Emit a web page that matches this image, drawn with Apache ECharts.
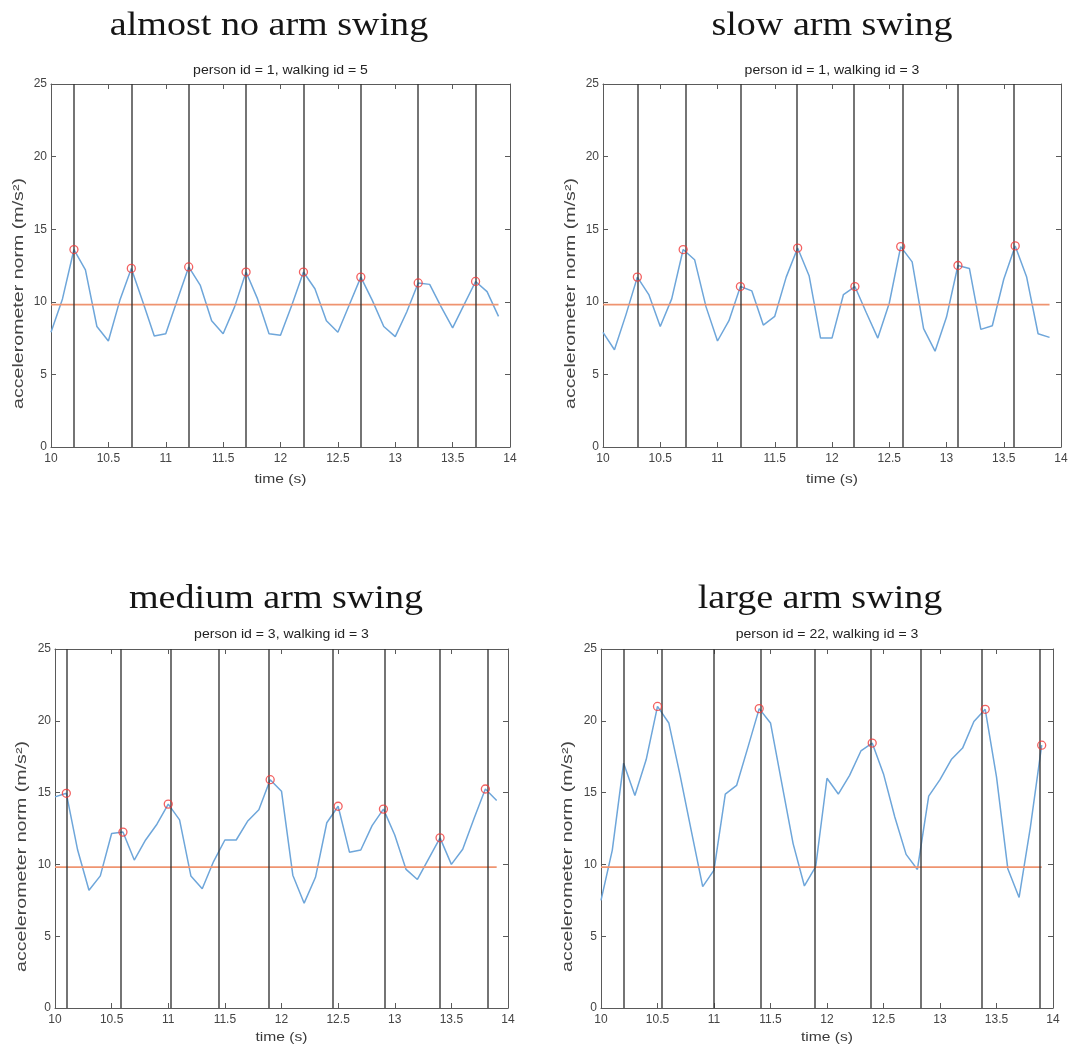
<!DOCTYPE html>
<html>
<head>
<meta charset="utf-8">
<title>Arm swing - accelerometer norm</title>
<script src="https://cdn.jsdelivr.net/npm/echarts@6/dist/echarts.min.js"></script>
<style>
  html, body { margin: 0; padding: 0; background: #ffffff; }
  #chart { width: 1073px; height: 1053px; }
</style>
</head>
<body>
<div id="chart"></div>
<script>
// Sample instants (s), 10 Hz
const sampleTimes = [10.0, 10.1, 10.2, 10.3, 10.4, 10.5, 10.6, 10.7, 10.8, 10.9,
                     11.0, 11.1, 11.2, 11.3, 11.4, 11.5, 11.6, 11.7, 11.8, 11.9,
                     12.0, 12.1, 12.2, 12.3, 12.4, 12.5, 12.6, 12.7, 12.8, 12.9,
                     13.0, 13.1, 13.2, 13.3, 13.4, 13.5, 13.6, 13.7, 13.8, 13.9];

// Accelerometer norm (m/s^2) for each recording
const noSwingNorm = [7.9, 10.2, 13.6, 12.2, 8.3, 7.3, 10.1, 12.3, 10.0, 7.65,
                     7.8, 10.1, 12.4, 11.15, 8.7, 7.8, 9.65, 12.05, 10.2, 7.8,
                     7.7, 9.8, 12.05, 10.9, 8.7, 7.9, 9.8, 11.7, 10.1, 8.3,
                     7.6, 9.3, 11.3, 11.2, 9.65, 8.2, 9.8, 11.4, 10.7, 9.0];
const slowSwingNorm = [7.9, 6.7, 9.1, 11.7, 10.5, 8.3, 10.2, 13.6, 12.9, 9.65,
                       7.3, 8.7, 11.05, 10.75, 8.4, 9.0, 11.7, 13.7, 11.8, 7.5,
                       7.5, 10.5, 11.05, 9.25, 7.5, 9.9, 13.8, 12.75, 8.15, 6.6,
                       8.95, 12.5, 12.3, 8.1, 8.35, 11.55, 13.85, 11.7, 7.8, 7.55];
const mediumSwingNorm = [14.7, 14.95, 11.0, 8.2, 9.2, 12.15, 12.25, 10.3, 11.7, 12.8,
                         14.2, 13.1, 9.2, 8.3, 10.2, 11.7, 11.7, 13.0, 13.8, 15.9,
                         15.1, 9.25, 7.3, 9.1, 12.9, 14.05, 10.85, 11.0, 12.7, 13.85,
                         12.05, 9.65, 8.95, 10.4, 11.85, 10.0, 11.05, 13.2, 15.25, 14.45];
const largeSwingNorm = [7.5, 11.0, 17.05, 14.8, 17.3, 21.0, 19.85, 16.2, 12.3, 8.45,
                        9.6, 14.9, 15.5, 18.15, 20.85, 19.85, 15.65, 11.45, 8.5, 9.85,
                        16.0, 14.9, 16.2, 17.9, 18.45, 16.3, 13.3, 10.7, 9.65, 14.75,
                        15.9, 17.3, 18.1, 19.95, 20.8, 16.1, 9.7, 7.7, 12.6, 18.3];

// Detected peaks (time, value)
const noSwingPeakTimes = [10.2, 10.7, 11.2, 11.7, 12.2, 12.7, 13.2, 13.7];
const noSwingPeakValues = [13.6, 12.3, 12.4, 12.05, 12.05, 11.7, 11.3, 11.4];
const slowSwingPeakTimes = [10.3, 10.7, 11.2, 11.7, 12.2, 12.6, 13.1, 13.6];
const slowSwingPeakValues = [11.7, 13.6, 11.05, 13.7, 11.05, 13.8, 12.5, 13.85];
const mediumSwingPeakTimes = [10.1, 10.6, 11.0, 11.9, 12.5, 12.9, 13.4, 13.8];
const mediumSwingPeakValues = [14.95, 12.25, 14.2, 15.9, 14.05, 13.85, 11.85, 15.25];
const largeSwingPeakTimes = [10.5, 11.4, 12.4, 13.4, 13.9];
const largeSwingPeakValues = [21.0, 20.85, 18.45, 20.8, 18.3];

// Step instants (vertical markers, s)
const noSwingSteps = [10.2, 10.7, 11.2, 11.7, 12.2, 12.7, 13.2, 13.7];
const slowSwingSteps = [10.3, 10.72, 11.195, 11.69, 12.19, 12.62, 13.1, 13.59];
const mediumSwingSteps = [10.1, 10.58, 11.02, 11.45, 11.89, 12.45, 12.91, 13.4, 13.82];
const largeSwingSteps = [10.197, 10.54, 11.0, 11.41, 11.89, 12.39, 12.83, 13.37, 13.885];

// Gravity reference (m/s^2)
const gravity = 9.81;

// Panel captions
const panelTitles = ['almost no arm swing', 'slow arm swing', 'medium arm swing', 'large arm swing'];
const panelSubtitles = ['person id = 1, walking id = 5', 'person id = 1, walking id = 3',
                        'person id = 3, walking id = 3', 'person id = 22, walking id = 3'];
const xAxisName = 'time (s)';
const yAxisName = 'accelerometer norm (m/s\u00B2)';

const panelData = [
  { values: noSwingNorm, peakT: noSwingPeakTimes, peakV: noSwingPeakValues, steps: noSwingSteps },
  { values: slowSwingNorm, peakT: slowSwingPeakTimes, peakV: slowSwingPeakValues, steps: slowSwingSteps },
  { values: mediumSwingNorm, peakT: mediumSwingPeakTimes, peakV: mediumSwingPeakValues, steps: mediumSwingSteps },
  { values: largeSwingNorm, peakT: largeSwingPeakTimes, peakV: largeSwingPeakValues, steps: largeSwingSteps }
];

// Layout of the four plot boxes (px)
const boxes = [
  { left: 51, top: 84, width: 459, height: 363, titleX: 269, titleY: 26, subY: 70, yLabX: 19, xLabY: 479 },
  { left: 603, top: 84, width: 458, height: 363, titleX: 832, titleY: 26, subY: 70, yLabX: 571, xLabY: 479 },
  { left: 55, top: 649, width: 453, height: 359, titleX: 276, titleY: 599, subY: 634, yLabX: 22, xLabY: 1037 },
  { left: 601, top: 649, width: 452, height: 359, titleX: 820, titleY: 599, subY: 634, yLabX: 568, xLabY: 1037 }
];

const AXIS_COLOR = '#5a5a5a';
const TICK_TEXT = '#444444';
const LINE_BLUE = '#6ea6da';
const LINE_ORANGE = '#ef9470';
const STEP_COLOR = '#333333';
const PEAK_RED = '#f03a3a';

const grids = [], xAxes = [], yAxes = [], series = [], graphics = [];

boxes.forEach((b, i) => {
  grids.push({ left: b.left, top: b.top, width: b.width, height: b.height, containLabel: false });

  const xBase = {
    gridIndex: i, type: 'value', min: 10, max: 14, interval: 0.5,
    axisLine: { show: true, onZero: false, lineStyle: { color: AXIS_COLOR, width: 1 } },
    axisTick: { show: true, inside: true, length: 5, lineStyle: { color: AXIS_COLOR } },
    splitLine: { show: false }
  };
  xAxes.push(Object.assign({}, xBase, {
    position: 'bottom',
    axisLabel: { show: true, color: TICK_TEXT, fontSize: 12, fontFamily: 'Liberation Sans, Arial, sans-serif', margin: 6 }
  }));
  xAxes.push(Object.assign({}, xBase, { position: 'top', axisLabel: { show: false } }));

  const yBase = {
    gridIndex: i, type: 'value', min: 0, max: 25, interval: 5,
    axisLine: { show: true, onZero: false, lineStyle: { color: AXIS_COLOR, width: 1 } },
    axisTick: { show: true, inside: true, length: 5, lineStyle: { color: AXIS_COLOR } },
    splitLine: { show: false }
  };
  yAxes.push(Object.assign({}, yBase, {
    position: 'left',
    axisLabel: { show: true, color: TICK_TEXT, fontSize: 12, fontFamily: 'Liberation Sans, Arial, sans-serif', margin: 4 }
  }));
  yAxes.push(Object.assign({}, yBase, { position: 'right', axisLabel: { show: false } }));

  const d = panelData[i];
  const xi = i * 2, yi = i * 2;

  // measured signal
  series.push({
    type: 'line', xAxisIndex: xi, yAxisIndex: yi,
    data: sampleTimes.map((t, k) => [t, d.values[k]]),
    showSymbol: false, symbol: 'none', silent: true, z: 2,
    lineStyle: { color: LINE_BLUE, width: 1.5 }
  });

  // gravity reference line
  series.push({
    type: 'line', xAxisIndex: xi, yAxisIndex: yi,
    data: [[sampleTimes[0], gravity], [sampleTimes[sampleTimes.length - 1], gravity]],
    showSymbol: false, symbol: 'none', silent: true, z: 3,
    lineStyle: { color: LINE_ORANGE, width: 1.8 }
  });

  // step markers (full-height vertical lines)
  series.push({
    type: 'line', xAxisIndex: xi, yAxisIndex: yi, data: [], silent: true, z: 4,
    markLine: {
      silent: true, symbol: ['none', 'none'], animation: false,
      label: { show: false },
      lineStyle: { color: STEP_COLOR, width: 1.6, type: 'solid', opacity: 0.85 },
      emphasis: { disabled: true },
      data: d.steps.map(t => ({ xAxis: t }))
    }
  });

  // detected peaks
  series.push({
    type: 'scatter', xAxisIndex: xi, yAxisIndex: yi,
    data: d.peakT.map((t, k) => [t, d.peakV[k]]),
    symbol: 'circle', symbolSize: 8, silent: true, z: 5,
    itemStyle: { color: 'rgba(255,255,255,0)', borderColor: PEAK_RED, borderWidth: 1.3, opacity: 0.8 }
  });

  const plotCx = b.left + b.width / 2;
  const plotCy = b.top + b.height / 2;

  // panel heading
  graphics.push({
    type: 'text', x: b.titleX, y: b.titleY, scaleX: 1.12, silent: true,
    style: {
      text: panelTitles[i], fontSize: 34, fontFamily: 'Liberation Serif, Times New Roman, serif',
      fill: '#151515', align: 'center', verticalAlign: 'middle', textAlign: 'center', textVerticalAlign: 'middle'
    }
  });
  // recording id line
  graphics.push({
    type: 'text', x: plotCx, y: b.subY, scaleX: 1.08, silent: true,
    style: {
      text: panelSubtitles[i], fontSize: 13, fontFamily: 'Liberation Sans, Arial, sans-serif',
      fill: '#222222', align: 'center', verticalAlign: 'middle', textAlign: 'center', textVerticalAlign: 'middle'
    }
  });
  // x axis name
  graphics.push({
    type: 'text', x: plotCx, y: b.xLabY, scaleX: 1.2, silent: true,
    style: {
      text: xAxisName, fontSize: 13, fontFamily: 'Liberation Sans, Arial, sans-serif',
      fill: '#3a3a3a', align: 'center', verticalAlign: 'middle', textAlign: 'center', textVerticalAlign: 'middle'
    }
  });
  // y axis name
  graphics.push({
    type: 'text', x: b.yLabX, y: plotCy + 28, rotation: Math.PI / 2, scaleX: 1.4, silent: true,
    style: {
      text: yAxisName, fontSize: 14, fontFamily: 'Liberation Sans, Arial, sans-serif',
      fill: '#444444', align: 'center', verticalAlign: 'middle', textAlign: 'center', textVerticalAlign: 'middle'
    }
  });
});

const chart = echarts.init(document.getElementById('chart'), null, { renderer: 'canvas' });
chart.setOption({
  backgroundColor: '#ffffff',
  animation: false,
  grid: grids,
  xAxis: xAxes,
  yAxis: yAxes,
  series: series,
  graphic: graphics
});
</script>
</body>
</html>
